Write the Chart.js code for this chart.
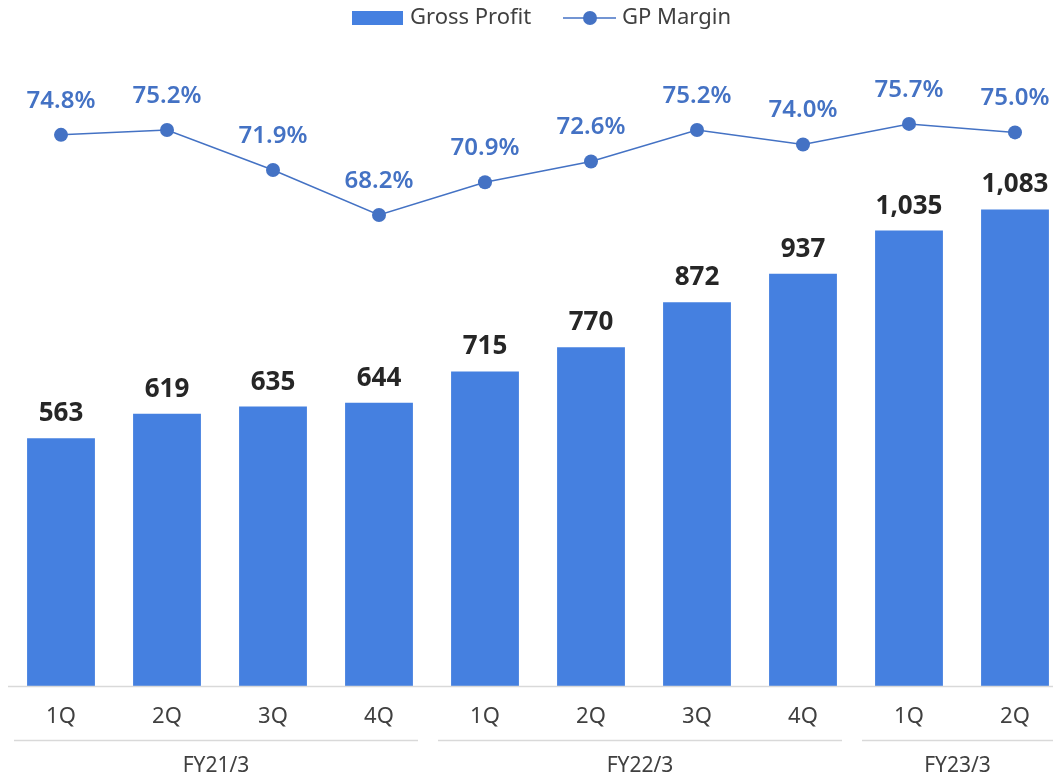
<!DOCTYPE html>
<html>
<head>
<meta charset="utf-8">
<script src="https://cdn.jsdelivr.net/npm/chart.js@4"></script>
<style>
  html, body { margin: 0; padding: 0; background: #fff; overflow: hidden; }
  #wrap { width: 1053px; height: 779px; overflow: hidden; position: relative; }
  canvas { display: block; }
</style>
</head>
<body>
<div id="wrap"><canvas id="gpChart" width="1068" height="779"></canvas></div>
<script>
// quarters and fiscal year groups
const quarters = ['1Q', '2Q', '3Q', '4Q', '1Q', '2Q', '3Q', '4Q', '1Q', '2Q'];
const fiscalYears = ['FY21/3', 'FY22/3', 'FY23/3'];
const fySizes = [4, 4, 2];

// series
const grossProfit = [563, 619, 635, 644, 715, 770, 872, 937, 1035, 1083];
const gpMargin = [74.8, 75.2, 71.9, 68.2, 70.9, 72.6, 75.2, 74.0, 75.7, 75.0];

const FONT = '"Noto Sans", "DejaVu Sans", sans-serif';
const BAR_COLOR = '#4580E0';
const LINE_COLOR = '#4472C4';
const TEXT_COLOR = '#404040';
const VISIBLE_W = 1053;

// legend, value labels and the two-level x axis
const decorations = {
    id: 'decorations',
    afterDatasetsDraw(chart) {
        const ctx = chart.ctx;
        const x = chart.scales.x;
        const area = chart.chartArea;
        ctx.save();

        // axis line
        ctx.strokeStyle = '#D9D9D9';
        ctx.lineWidth = 1.5;
        ctx.beginPath();
        ctx.moveTo(area.left, area.bottom + 0.5);
        ctx.lineTo(VISIBLE_W, area.bottom + 0.5);
        ctx.stroke();

        // bar labels
        ctx.textAlign = 'center';
        ctx.textBaseline = 'alphabetic';
        ctx.font = `bold 26px ${FONT}`;
        ctx.fillStyle = '#262626';
        chart.getDatasetMeta(0).data.forEach((bar, i) => {
            ctx.fillText(grossProfit[i].toLocaleString('en-US'), bar.x, bar.y - 17);
        });

        // margin labels
        ctx.font = `600 24px ${FONT}`;
        ctx.fillStyle = LINE_COLOR;
        ctx.textBaseline = 'middle';
        chart.getDatasetMeta(1).data.forEach((pt, i) => {
            ctx.fillText(gpMargin[i].toFixed(1) + '%', pt.x, pt.y - 34);
        });

        // quarter labels
        ctx.font = `22px ${FONT}`;
        ctx.fillStyle = TEXT_COLOR;
        quarters.forEach((q, i) => {
            ctx.fillText(q, x.getPixelForValue(i), area.bottom + 31);
        });

        // fiscal year groups
        let start = 0;
        ctx.font = `21px ${FONT}`;
        fiscalYears.forEach((fy, g) => {
            const end = start + fySizes[g] - 1;
            const half = (x.getPixelForValue(1) - x.getPixelForValue(0)) / 2;
            const left = x.getPixelForValue(start) - half + 6;
            const right = Math.min(x.getPixelForValue(end) + half - 14, VISIBLE_W);
            ctx.strokeStyle = '#D9D9D9';
            ctx.lineWidth = 1.5;
            ctx.beginPath();
            ctx.moveTo(left, area.bottom + 54.5);
            ctx.lineTo(right, area.bottom + 54.5);
            ctx.stroke();
            ctx.fillStyle = TEXT_COLOR;
            ctx.fillText(fy, (left + right) / 2, area.bottom + 80);
            start = end + 1;
        });

        // legend
        const ly = 18;
        ctx.fillStyle = BAR_COLOR;
        ctx.fillRect(352, ly - 7, 51, 14);
        ctx.fillStyle = TEXT_COLOR;
        ctx.textAlign = 'left';
        ctx.font = `22px ${FONT}`;
        ctx.fillText('Gross Profit', 410, ly);
        ctx.strokeStyle = LINE_COLOR;
        ctx.lineWidth = 1.5;
        ctx.beginPath();
        ctx.moveTo(563, ly);
        ctx.lineTo(616, ly);
        ctx.stroke();
        ctx.fillStyle = LINE_COLOR;
        ctx.beginPath();
        ctx.arc(590, ly, 7, 0, Math.PI * 2);
        ctx.fill();
        ctx.fillStyle = TEXT_COLOR;
        ctx.fillText('GP Margin', 622, ly);

        ctx.restore();
    }
};

new Chart(document.getElementById('gpChart'), {
    type: 'bar',
    data: {
        labels: quarters,
        datasets: [
            {
                type: 'bar',
                label: 'Gross Profit',
                data: grossProfit,
                backgroundColor: BAR_COLOR,
                categoryPercentage: 1,
                barPercentage: 0.64,
                yAxisID: 'y',
                order: 2
            },
            {
                type: 'line',
                label: 'GP Margin',
                data: gpMargin,
                borderColor: LINE_COLOR,
                backgroundColor: LINE_COLOR,
                borderWidth: 1.5,
                pointRadius: 7,
                pointHoverRadius: 7,
                pointBackgroundColor: LINE_COLOR,
                pointBorderWidth: 0,
                tension: 0,
                yAxisID: 'y1',
                order: 1
            }
        ]
    },
    options: {
        responsive: false,
        animation: false,
        devicePixelRatio: 1,
        layout: { autoPadding: false, padding: { top: 70, bottom: 93, left: 8, right: 0 } },
        plugins: {
            legend: { display: false },
            tooltip: { enabled: false }
        },
        scales: {
            x: { display: false, offset: true, grid: { display: false } },
            y: { display: false, min: 0, max: 1400 },
            y1: { display: false, position: 'right', min: 29.4, max: 80.14 }
        }
    },
    plugins: [decorations]
});
</script>
</body>
</html>
